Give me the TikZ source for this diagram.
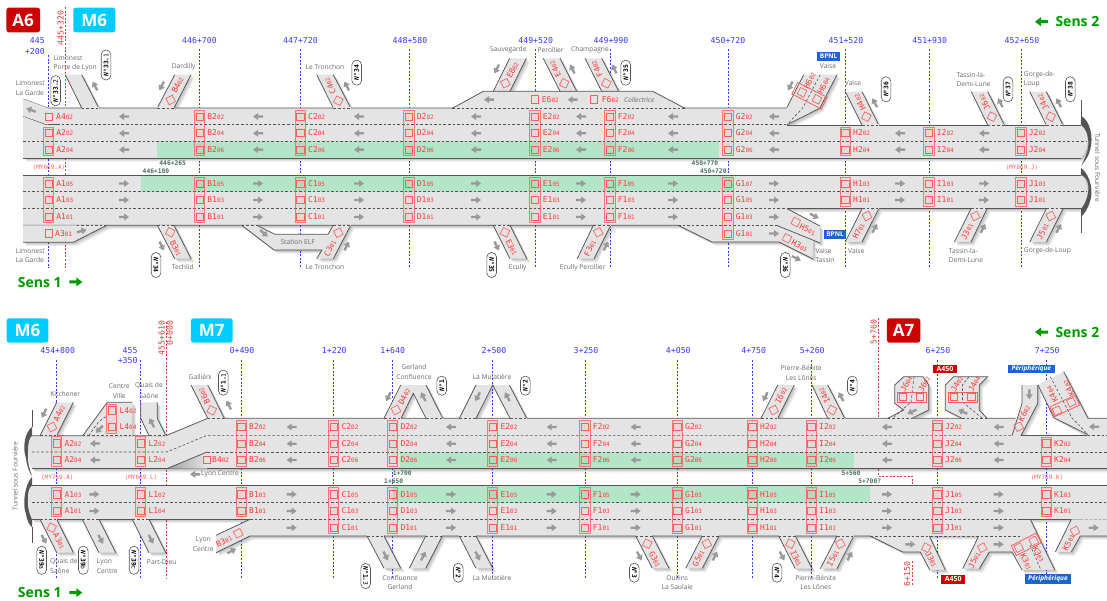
\documentclass[tikz,border=0pt]{standalone}
\usepackage{fontspec}
\setmainfont{Open Sans}
\setmonofont{DejaVu Sans Mono}
\newfontfamily\opn{Open Sans}
\definecolor{roadg}{HTML}{E4E4E4}
\definecolor{edgeg}{HTML}{555555}
\definecolor{arrg}{HTML}{999999}
\definecolor{greenb}{HTML}{B3E5C9}
\definecolor{camr}{HTML}{FF5F5F}
\definecolor{lblr}{HTML}{FF3B3B}
\definecolor{pkb}{HTML}{3838FF}
\definecolor{pkr}{HTML}{E23C3C}
\definecolor{placeg}{HTML}{6A6A6A}
\definecolor{pkg}{HTML}{4A6E5C}
\definecolor{sensg}{HTML}{009900}
\definecolor{a6r}{HTML}{CC0000}
\definecolor{m6c}{HTML}{00CCFF}
\definecolor{bpn}{HTML}{1A66CC}
\newcounter{nn}
\newcount\passno
\newcommand\tx[3][]{\stepcounter{nn}\node[#1] (t\thenn) at (#2) {#3};}
\newcommand\lbt[2]{{\ttfamily\fontsize{8}{8}\selectfont #1}{\ttfamily\fontsize{6}{6}\selectfont #2}}
\newcommand\cam[2]{\tx[camb,rotate=#2]{#1}{}}
\newcommand\rl[4]{\tx[rlab,rotate=#2]{#1}{\lbt{#3}{#4}}}
\newcommand\arrw[3]{\begin{scope}[shift={(#1,#2)},rotate=#3]\fill[arrg] (-5,-1.2)--(0,-1.2)--(0,-3.5)--(5,0)--(0,3.5)--(0,1.2)--(-5,1.2)--cycle;\end{scope}}
\newcommand\senarr[3]{\begin{scope}[shift={(#1,#2)},rotate=#3]\fill[sensg] (-6.5,-1.5)--(0.5,-1.5)--(0.5,-4.5)--(6.5,0)--(0.5,4.5)--(0.5,1.5)--(-6.5,1.5)--cycle;\end{scope}}
\newcommand\softsh[1]{\foreach \s in {1,2,3,4}{\fill[black,opacity=.07,shift={(\s*.9,\s*.9)}] #1;}}
\newcommand\Shp[2]{\ifnum\passno=1 \softsh{#1}\else \fill[roadg] #1; #2\fi}
\newcommand\gap[2]{\draw[line width=1.5pt,roadg](#1)--(#2);\draw[laned](#1)--(#2);}
\newcommand\ramp[4]{\Shp{(#1)--(#2)--(#3)--(#4)--cycle}{\draw[rline](#1)--(#2);\draw[rline](#3)--(#4);\gap{#1}{#4}}}
\newcommand\gantry[3]{\draw[gant] (#1-5.2,#2) rectangle (#1+5.2,#3);}
\newcommand\colm[5]{\gantry{#1}{#2}{#3}\foreach \yy/\ss in {#5}{\cam{#1,\yy}{0}\tx[wlab]{#1+7.7,\yy}{\lbt{#4}{\ss}}}}
\newcommand\pill[5]{\tx[pillb,rotate=#2,minimum width=#3]{#1}{{\bfseries\itshape N°}\textbf{#4}#5}}
\tikzset{
 x=1pt,y=-1pt,
 camb/.style={draw=camr,line width=.65pt,minimum size=7.2pt,inner sep=0pt},
 gant/.style={draw=camr,line width=.85pt,draw opacity=.8,fill=red,fill opacity=.05},
 wlab/.style={anchor=west,inner sep=0pt,text=lblr},
 rlab/.style={inner sep=0pt,text=lblr},
 rline/.style={draw=edgeg,line width=.75pt},
 laned/.style={draw=edgeg,line width=.6pt,dash pattern=on 2.6pt off 2pt},
 place/.style={font=\opn\fontsize{6.7}{8}\selectfont,text=placeg,inner sep=0pt},
 pkt/.style={font=\ttfamily\fontsize{8.2}{9}\selectfont,text=pkb,inner sep=0pt},
 pkrt/.style={font=\ttfamily\fontsize{8.2}{9}\selectfont,text=pkr,inner sep=0pt,rotate=90},
 pkgt/.style={font=\ttfamily\bfseries\fontsize{6.3}{7}\selectfont,text=pkg,inner sep=0pt},
 myt/.style={font=\ttfamily\fontsize{6}{7}\selectfont,text=camr,inner sep=0pt},
 bline/.style={draw=pkb,line width=.6pt,dash pattern=on 2pt off 1.6pt},
 rdline/.style={draw=pkr,line width=.6pt,dash pattern=on 2pt off 1.6pt},
 pillb/.style={draw=edgeg,line width=.6pt,fill=white,rounded corners=4.6pt,minimum height=9.6pt,inner sep=0pt,font=\ttfamily\fontsize{6.3}{7}\selectfont,text=black},
 bigbox/.style={rounded corners=2.5pt,inner sep=0pt,text=white,font=\opn\bfseries\fontsize{17}{18}\selectfont},
 smallbox/.style={inner sep=0pt,text=white,font=\opn\bfseries\fontsize{6.5}{7}\selectfont},
 senst/.style={inner sep=0pt,text=sensg,font=\opn\bfseries\fontsize{14}{15}\selectfont},
}
\def\allramps{%
% --- band 1 top
\Shp{(23,99)--(48,108)--(48,124.7)--(23,116)--cycle}{}%
\ramp{81.7,108}{65.3,74.7}{81.7,74.7}{98.7,108}%
\ramp{157.3,108}{174.7,74.7}{191,74.7}{174,108}%
\ramp{333.3,108}{316.7,74.7}{333.3,74.7}{350.7,108}%
\ramp{493.3,91.3}{509.7,58.3}{526.3,58.3}{510,91.3}%
\ramp{560,91.3}{543.3,58.3}{560,58.3}{576.7,91.3}%
\ramp{601.7,91.3}{585,58.3}{601.7,58.3}{618.7,91.3}%
\Shp{(452.3,108.3)--(483.3,91.3)--(652.7,91.3)--(685,108.3)--cycle}{\draw[rline](452.3,108.3)--(483.3,91.3)--(652.7,91.3)--(685,108.3);\gap{452.3,108.3}{685,108.3}}%
\Shp{(787,107.3)--(803.7,74.7)--(837,74.7)--(819.7,108.3)--(787,124.7)--cycle}{\draw[rline](787,107.3)--(803.7,74.7);\draw[rline](837,74.7)--(819.7,108.3)--(787,124.7);\draw[laned](820.3,74.7)--(802.7,108)--(787,124.7);}%
\ramp{862,125}{845.3,91.7}{862,91.7}{878.7,125}%
\ramp{987.7,125}{971.3,91.7}{987.7,91.7}{1004.3,125}%
\ramp{1046.3,125}{1029.7,91.7}{1046.3,91.7}{1063,125}%
% --- band 1 bottom
\Shp{(23,225.3)--(106.7,225.3)--(73.3,242.3)--(23,242.3)--cycle}{\draw[rline](106.7,225.3)--(73.3,242.3)--(23,242.3);\gap{76.7,225.3}{106.7,225.3}}%
\ramp{157.3,225.3}{174.7,258.7}{191,258.7}{174,225.3}%
\Shp{(241.7,225.3)--(274,250)--(322,250)--(316.7,258.7)--(333.3,258.7)--(350.7,225.3)--(333.3,225.3)--(328,234.3)--(275,234.3)--(256.7,225.3)--cycle}{\draw[rline](241.7,225.3)--(274,250)--(322,250)--(316.7,258.7);\draw[rline](333.3,258.7)--(350.7,225.3);\draw[rline](333.3,225.3)--(328,234.3)--(275,234.3)--(256.7,225.3);\gap{241.7,225.3}{256.7,225.3}\gap{333.3,225.3}{350.7,225.3}}%
\ramp{493.3,225.3}{510,258.7}{526.7,258.7}{510,225.3}%
\ramp{593.3,225.3}{577.3,258.7}{594,258.7}{610.7,225.3}%
\ramp{862,208.7}{845.3,242}{862,242}{878.7,208.7}%
\ramp{971,208.7}{954.3,242}{971,242}{987,208.7}%
\ramp{1046.3,208.7}{1029.7,242}{1046.3,242}{1063,208.7}%
% --- band 2 top
\ramp{40,435.7}{56.7,402.3}{73.3,402.3}{56.7,435.7}%
\Shp{(82.7,435.7)--(107.3,402.3)--(132.3,402.3)--(132.3,435.7)--cycle}{\draw[rline](82.7,435.7)--(107.3,402.3)--(132.3,402.3);\gap{82.7,435.7}{132.3,435.7}\draw[laned](89,435.7) .. controls (96,424) and (102,418) .. (107,416);}%
\Shp{(140.7,402.3)--(157.3,402.3)--(157.3,418.3)--(166,435.7)--(149,435.7)--(140.7,418.3)--cycle}{\draw[rline](140.7,402.3)--(140.7,418.3)--(149,435.7);\draw[rline](157.3,402.3)--(157.3,418.3)--(166,435.7);\gap{149,435.7}{166,435.7}}%
\ramp{207.7,418.3}{191,385}{207.7,385}{224.3,418.3}%
\Shp{(384,418.3)--(400.7,385)--(426,385)--(442.7,418.3)--(426,418.3)--(413.3,393.3)--(401,418.3)--cycle}{\draw[rline](384,418.3)--(400.7,385);\draw[rline](426,385)--(442.7,418.3);\draw[rline](426,418.3)--(413.3,393.3)--(401,418.3);\gap{384,418.3}{401,418.3}\gap{426,418.3}{442.7,418.3}}%
\Shp{(459.3,418.3)--(476,385)--(509.3,385)--(526.7,418.3)--(510,418.3)--(492.7,385)--(476,418.3)--cycle}{\draw[rline](459.3,418.3)--(476,385);\draw[rline](509.3,385)--(526.7,418.3);\draw[rline](510,418.3)--(492.7,385)--(476,418.3);\gap{459.3,418.3}{476,418.3}\gap{510,418.3}{526.7,418.3}}%
\ramp{761,418.3}{777.7,385}{794.3,385}{777.7,418.3}%
\ramp{827.7,418.3}{812,385}{827.7,385}{844.7,418.3}%
\Shp{(887.7,418.3)--(903.7,410)--(894.7,403.3)--(894.7,385)--(903.7,376.7)--(923,376.7)--(928.7,385)--(928.7,410)--(912,418.3)--cycle}{\draw[rline](887.7,418.3)--(903.7,410)--(894.7,403.3)--(894.7,385)--(903.7,376.7)--(923,376.7)--(928.7,385)--(928.7,410)--(912,418.3);\gap{887.7,418.3}{912,418.3}\draw[laned](914,376.7)--(911,402)--(893,418);}%
\Shp{(945.3,385)--(953.7,376.7)--(987.7,376.7)--(979.3,385)--(979.3,410)--(987,418.3)--(962,418.3)--(945.3,410)--cycle}{\draw[rline](962,418.3)--(945.3,410)--(945.3,385)--(953.7,376.7)--(987.7,376.7)--(979.3,385)--(979.3,410)--(987,418.3);\gap{962,418.3}{987,418.3}\draw[laned](969,376.7)--(962.5,385)--(962.5,402)--(982,418);}%
\Shp{(1012,435.7)--(1022,403.3)--(1022,385)--(1037.7,385)--(1037.7,403.3)--(1021,435.7)--cycle}{\draw[rline](1012,435.7)--(1022,403.3)--(1022,385);\draw[rline](1037.7,385)--(1037.7,403.3)--(1021,435.7);}%
\Shp{(1038,385)--(1063.7,371.7)--(1088,418.3)--(1107,418.3)--(1107,435.5)--(1087.7,435.5)--(1053.7,417.7)--cycle}{\draw[rline](1038,385)--(1053.7,417.7)--(1087.7,434.5);\draw[rline](1063.7,371.7)--(1088,418.3)--(1107,418.3);\draw[laned](1050.3,376.7)--(1072,418)--(1087.7,434.3);\draw[laned](1087.7,435.3)--(1107,435.3);}%
% --- band 2 bottom
\ramp{40,519.3}{56.7,552.7}{73.3,552.7}{56.7,519.3}%
\ramp{82.3,519.3}{99,552.7}{115.7,552.7}{99,519.3}%
\ramp{132.3,519.3}{149,552.7}{165.7,552.7}{149,519.3}%
\Shp{(250,519.3)--(216,535.3)--(216,552.7)--(250,536)--cycle}{\draw[rline](250,519.3)--(216,535.3);\draw[rline](216,552.7)--(250,536);}%
\ramp{367,536}{384,568.3}{400.7,568.3}{384,536}%
\ramp{425.7,536}{409.3,568.3}{425.7,568.3}{442.3,536}%
\ramp{459.3,536}{476,568.3}{492.7,568.3}{476,536}%
\ramp{635.7,536}{652.3,568.3}{669,568.3}{652.3,536}%
\ramp{702.3,536}{685.7,568.3}{702.3,568.3}{719,536}%
\ramp{778.7,536}{795.3,568.7}{812,568.7}{795.3,536}%
\ramp{837,536}{820.3,568.7}{837,568.7}{853.7,536}%
\Shp{(1071.3,519.3)--(1107,519.3)--(1107,536)--(1080.3,536)--(1071.3,552)--(1055.3,552)--cycle}{\draw[rline](1071.3,519.3)--(1055.3,552);\draw[rline](1071.3,552)--(1080.3,536)--(1107,536);}%
}
\begin{document}
\begin{tikzpicture}
\useasboundingbox (0,0) rectangle (1107,601);
% PK lines behind the road
\foreach \x in {199.5,300.3,409,535,610,728,845.3,929,1021}{\draw[bline] (\x,49) -- (\x,268);}
\draw[bline] (48.5,55) -- (48.5,268);
\draw[rdline] (65.3,7) -- (65.3,268);
\foreach \x in {241.3,333.7,392.7,492.7,585,677.3,752.3,811.3,937.3,1046.3}{\draw[bline] (\x,360) -- (\x,577.7);}
\draw[bline] (56.7,360) -- (56.7,577.7);
\draw[bline] (140.7,360) -- (140.7,577.7);
\draw[rdline] (166,322) -- (166,578);
\draw[rdline] (878.3,318) -- (878.3,418);
\draw[rdline] (912.3,561) -- (912.3,586);
\draw[rdline] (878.3,469.3) -- (878.3,476) -- (912.3,476) -- (912.3,484.3);
% ramp shadows
\global\passno=1 \allramps
% road shadows
\def\ROne{(23,99)--(48,108)--(787,108)--(787,125)--(1081,125) .. controls (1090,132) and (1090,148) .. (1081,158)--(23,158)--cycle}
\def\RTwo{(23,175)--(1081,175) .. controls (1090,183) and (1090,200) .. (1081,208.7)--(787,208.7)--(820,226)--(820,243)--(813,241)--(813,259)--(779,242)--(712,242)--(678,225.3)--(23,225.3)--cycle}
\def\RThree{(32,435.7)--(166,435.7)--(207.7,418.3)--(1015.5,418.3)--(1021,435.7)--(1087.7,435.7)--(1087.7,418.3)--(1107,418.3)--(1107,468.7)--(32,468.7) .. controls (27,462) and (27,442) .. (32,435.7)--cycle}
\def\RFour{(32,485.3)--(1107,485.3)--(1107,519.3)--(32,519.3) .. controls (27,513) and (27,492) .. (32,485.3)--cycle}
\def\RFive{(250,519.3)--(1030.3,519.3)--(1054.7,570)--(1022,570)--(1012,552)--(989.3,552)--(979.3,568.7)--(962.7,568.7)--(978.7,536)--(929.3,536)--(945.3,570)--(929.7,570)--(920.3,552)--(902.7,552)--(870.3,536)--(250,536)--cycle}
\softsh{\ROne}\softsh{\RTwo}\softsh{\RThree}\softsh{\RFour}\softsh{\RFive}
\fill[roadg] \ROne; \fill[roadg] \RTwo; \fill[roadg] \RThree; \fill[roadg] \RFour; \fill[roadg] \RFive;
% green lanes
\fill[greenb] (157,141.5) rectangle (719,158);
\fill[greenb] (141,175) rectangle (733,191.7);
\fill[greenb] (400,452) rectangle (853.7,468.7);
\fill[greenb] (392.7,485.3) rectangle (870.3,502.7);
% road edges
\draw[rline] (23,99)--(48,108)--(787,108);
\draw[rline] (787,125)--(1081,125);
\draw[rline] (23,158)--(1081,158);
\draw[rline] (23,116)--(46,124.5)--(57,124.5);
\draw[laned] (57,124.5)--(787,124.5);
\draw[laned] (23,141.5)--(1086,141.5);
\draw[rline] (23,175)--(1081,175);
\draw[laned] (23,191.7)--(1086,191.7);
\draw[laned] (23,208.5)--(787,208.5);
\draw[rline] (787,208.7)--(1081,208.7);
\draw[rline] (23,225.3)--(678,225.3)--(712,242)--(779,242)--(813,259);
\draw[laned] (678,225.3)--(777,225.3);
\draw[rline] (787,208.7)--(820,226);
\draw[rline] (777,225.5)--(820,243);
% tunnel ends band 1
\draw[rline] (1081,100)--(1081,117);
\draw[rline] (1081,216)--(1081,233);
\fill[edgeg] (1081,116) .. controls (1090,120) and (1094,138) .. (1090,150) .. controls (1088,158) and (1084,162) .. (1081,166) .. controls (1084,160) and (1090,150) .. (1088,138) .. controls (1087,132) and (1085,128) .. (1081,125) --cycle;
\fill[edgeg] (1081,168) .. controls (1092,176) and (1093,195) .. (1090,201) .. controls (1088,209) and (1084,214) .. (1081,217) -- (1081,208.7) .. controls (1086,204) and (1090,190) .. (1088,184) .. controls (1087,180) and (1085,177) .. (1081,175) --cycle;
% band 2 edges
\draw[rline] (32,435.7)--(166,435.7)--(207.7,418.3)--(1015.5,418.3);
\draw[rline] (1020,435.5)--(1088,435.5);
\draw[laned] (32,452)--(166.7,452)--(207,435.3)--(1012,435.3);
\draw[laned] (207,452)--(1107,452);
\draw[rline] (32,468.7)--(1107,468.7);
\draw[rline] (32,485.3)--(1107,485.3);
\draw[laned] (32,502.7)--(1107,502.7);
\draw[rline] (32,519.3)--(250,519.3);
\draw[laned] (250,519.3)--(1020.3,519.3);
\draw[rline] (1020.3,519.3)--(1080.3,519.3);
\draw[laned] (1080.3,519.3)--(1107,519.3);
\draw[rline] (250,536)--(870.3,536)--(902.7,552)--(920.3,552)--(929.7,570);
\draw[rline] (929.3,536)--(945.3,570);
\draw[rline] (978.7,536)--(962.7,568.7);
\draw[rline] (979.3,568.7)--(989.3,552)--(1012,552)--(1022,570);
\draw[rline] (1030.3,519.3)--(1054.7,570);
\draw[laned] (870.3,536)--(1020.3,536);
\draw[laned] (1030,545)--(1041,570);
\shade[left color=black!38,right color=roadg] (166.7,468.7)--(207,452.3)--(207,468.7)--cycle;
\draw[rline] (166.7,468.7)--(207,452);
% tunnel ends band 2
\draw[rline] (32,410)--(32,427);
\draw[rline] (32,527)--(32,543);
\fill[edgeg] (32,427) .. controls (25,432) and (22,448) .. (26,458) .. controls (27,466) and (29,472) .. (32,476) .. controls (30,470) and (27,462) .. (28,452) .. controls (28,444) and (29,438) .. (32,435.7) --cycle;
\fill[edgeg] (32,477) .. controls (25,484) and (22,504) .. (26,514) .. controls (27,520) and (29,525) .. (32,527) -- (32,519.3) .. controls (29,514) and (27,504) .. (28,498) .. controls (28,492) and (29,488) .. (32,485.3) --cycle;
% ramps
\global\passno=2 \allramps
% ---------- band 1 columns
\cam{48.5,116.5}{0}\tx[wlab]{56,116.5}{\lbt{A4}{02}}
\colm{48.5}{127}{155}{A2}{133/02,149.5/04}
\colm{48.5}{177.7}{222.7}{A1}{183.5/05,200/03,217/01}
\foreach \x/\c in {199.5/B,300.3/C,409/D,535/E,610/F}{
 \colm{\x}{110.5}{155}{\c2}{116.5/02,133/04,149.5/06}
 \colm{\x}{177.7}{222.7}{\c1}{183.5/05,200/03,217/01}
}
\colm{728}{110.5}{155}{G2}{116.5/02,133/04,149.5/06}
\colm{728}{177.7}{239}{G1}{183.5/07,200/05,217/03,233.5/01}
\foreach \x/\c in {845.3/H,929/I,1021/J}{
 \colm{\x}{127.3}{155}{\c2}{133/02,149.5/04}
 \colm{\x}{177.7}{206.7}{\c1}{183.5/03,200/01}
}
% band 1 arrows
\foreach \x in {124,258,359,476,581,673,774}{\arrw{\x}{116.5}{180}}
\foreach \x in {124,258,359,476,581,673,774,900,984}{\arrw{\x}{133.3}{180}\arrw{\x}{149.7}{180}\arrw{\x}{183.5}{0}\arrw{\x}{200}{0}}
\foreach \x in {124,258,359,476,581,673,774}{\arrw{\x}{217}{0}}
\arrw{774}{233.5}{0}
\arrw{489}{99.7}{180}\arrw{572.7}{99.7}{180}
% band 1 ramp details
\arrw{31}{110}{160}
\arrw{95}{86}{117}
\cam{170.7,100}{27}\rl{177.7,85}{63}{B4}{02}\arrw{161.7}{86}{243}
\cam{338.3,100.7}{-27}\rl{330,86}{117}{C4}{02}\arrw{346.7}{86}{117}
\cam{505.3,83.3}{27}\rl{512.7,70}{63}{E8}{02}\arrw{496.7}{69}{243}
\cam{564.3,83.3}{-27}\rl{555,69}{117}{E4}{02}\arrw{572.3}{69}{117}
\cam{606.3,83.3}{-27}\rl{596.7,69}{117}{F4}{02}\arrw{614.3}{69}{117}
\cam{535,99.3}{0}\tx[wlab]{541.7,99.5}{\lbt{E6}{02}}
\cam{594,99.3}{0}\tx[wlab]{601.7,99.5}{\lbt{F6}{02}}
\tx[place,font=\opn\itshape\fontsize{6.7}{8}\selectfont]{639.3,100}{Collectrice}
\tx[draw=camr,line width=.8pt,minimum width=33pt,minimum height=13pt,inner sep=0pt,rotate=-27]{809.5,95.7}{}
\cam{802,92.3}{-27}\cam{817,99.3}{-27}
\rl{809.7,80.7}{63}{H6}{02}\rl{823.7,85.7}{63}{H6}{04}\arrw{790.3}{86}{243}
\cam{866.3,116.7}{-27}\rl{859.7,102.3}{117}{H4}{02}\arrw{874.7}{102.7}{117}
\cam{992,116.7}{-27}\rl{984.3,102.3}{117}{J6}{02}\arrw{1000.3}{102.7}{117}
\cam{1050.7,116.7}{-27}\rl{1043,102.3}{117}{J4}{02}\arrw{1058.7}{102.7}{117}
\cam{49,233.3}{0}\tx[wlab]{55,233.5}{\lbt{A3}{01}}\arrw{81.7}{231}{15}
\cam{170.3,232.3}{-27}\rl{176,248.3}{-63}{B3}{01}\arrw{161.7}{246}{-63}
\arrw{264}{233.3}{-40}\tx[place]{297.7,242.3}{Station ELF}
\cam{338.3,232.7}{27}\rl{330,248.3}{63}{C3}{01}\arrw{346.7}{246}{63}
\cam{505,232.3}{-27}\rl{511.7,247.3}{-63}{E3}{01}\arrw{496.7}{246}{-63}
\cam{598.3,232.3}{27}\rl{590,248.3}{63}{F3}{01}\arrw{606}{246}{63}
\cam{795.7,222}{-27}\rl{807.7,229.3}{-27}{H5}{01}\arrw{814.3}{216}{-27}
\cam{787,238.3}{-27}\rl{799.7,246}{-27}{H3}{01}\arrw{796.3}{258.3}{-27}
\cam{867,216}{27}\rl{858.7,231}{63}{H7}{01}\arrw{874.7}{228.3}{63}
\cam{975.3,216}{27}\rl{967,231.7}{63}{J3}{01}\arrw{983}{228.3}{63}
\cam{1050.7,216}{27}\rl{1042.7,231.7}{63}{J5}{01}\arrw{1058.7}{228.3}{63}
% band 1 texts
\tx[bigbox,fill=a6r,minimum width=33.7pt,minimum height=24.6pt]{23.2,20}{A6}
\tx[bigbox,fill=m6c,minimum width=42pt,minimum height=24.6pt]{94.3,20}{M6}
\tx[pkt,anchor=east]{45,41}{445}\tx[pkt,anchor=east]{45,51.5}{+200}
\tx[pkrt]{60.7,28}{445+320}
\foreach \x/\t in {199.5/446+700,300.5/447+720,410/448+580,535.7/449+520,611/449+990,728/450+720,846/451+520,929.7/451+930,1022/452+650}{\tx[pkt]{\x,41}{\t}}
\senarr{1041.5}{21.7}{180}\tx[senst,anchor=west]{1055.3,22}{Sens 2}
\tx[senst,anchor=west]{17.7,282}{Sens 1}\senarr{75.8}{282}{0}
\tx[place,anchor=west]{53.3,58.3}{Limonest}\tx[place,anchor=west]{53.3,67.7}{Porte de Lyon}
\tx[place,anchor=west]{15.7,83.3}{Limonest}\tx[place,anchor=west]{15.7,92.7}{La Garde}
\tx[place]{183.7,66.7}{Dardilly}\tx[place]{325,66.7}{Le Tronchon}
\tx[place]{508.3,50}{Sauvegarde}\tx[place]{550.7,50}{Perollier}\tx[place]{590,50}{Champagne}
\tx[smallbox,fill=bpn,minimum width=23.3pt,minimum height=9.3pt]{828.6,56.3}{BPNL}
\tx[place]{828,66}{Vaise}\tx[place,anchor=west]{844.7,83.3}{Vaise}
\tx[place,anchor=west]{956.3,74.7}{Tassin-la-}\tx[place,anchor=west]{956.3,84.3}{Demi-Lune}
\tx[place,anchor=west]{1023.7,74.7}{Gorge-de-}\tx[place,anchor=west]{1023.7,84.3}{Loup}
\tx[place,rotate=-90]{1097.7,167.5}{Tunnel sous Fourvière}
\tx[place,anchor=west]{15.7,251}{Limonest}\tx[place,anchor=west]{15.7,260.3}{La Garde}
\tx[place]{182.7,267.3}{Techlid}\tx[place]{325,267.3}{Le Tronchon}
\tx[place]{517.7,267.3}{Ecully}\tx[place]{582.7,268}{Ecully Perollier}
\tx[place,anchor=west]{815.3,251}{Vaise}\tx[place,anchor=west]{815.3,260.3}{Tassin}
\tx[place,anchor=west]{848,251}{Vaise}
\tx[place,anchor=west]{948.7,251}{Tassin-la-}\tx[place,anchor=west]{948.7,260.5}{Demi-Lune}
\tx[place,anchor=west]{1023.7,251}{Gorge-de-Loup}
\tx[smallbox,fill=bpn,minimum width=22.6pt,minimum height=8.7pt]{835,234.3}{BPNL}
\tx[pkgt]{172.7,163}{446+265}\tx[pkgt]{156,171.3}{446+100}\tx[pkgt]{705,163}{450+770}\tx[pkgt]{713.3,171.3}{450+720}
\tx[myt]{49,167.7}{(MY669.A)}\tx[myt]{1022,167.7}{(MY669.J)}
\pill{55.7,90.7}{90}{30pt}{33.}{2}\pill{106,65}{90}{30pt}{33.}{1}
\pill{356.7,72.7}{90}{25pt}{34}{}\pill{625.7,72.7}{90}{25pt}{35}{}
\pill{886,89.3}{90}{25pt}{36}{}\pill{1008,89.3}{90}{25pt}{37}{}\pill{1070.3,89.3}{90}{25pt}{38}{}
\pill{156,265}{-90}{25pt}{34}{}\pill{491.7,265}{-90}{25pt}{35}{}\pill{785.3,265}{-90}{25pt}{36}{}
% ---------- band 2 columns
\colm{56.7}{436.7}{466}{A2}{443.3/02,460/04}
\colm{56.7}{487.5}{516}{A1}{494.3/03,511/01}
\colm{140.7}{436.7}{466}{L2}{443.3/02,460/04}
\colm{140.7}{487.5}{516}{L1}{494.3/02,511/04}
\colm{111.7}{404.3}{433.3}{L4}{410.3/02,427/04}
\colm{241.3}{420.7}{466}{B2}{427/02,443.7/04,460/06}
\colm{241.3}{487.5}{516}{B1}{494.3/03,511/01}
\cam{206.7,460}{0}\tx[wlab]{212,460}{\lbt{B4}{02}}
\foreach \x/\c in {333.7/C,392.7/D,492.7/E,585/F,677.3/G,752.3/H,811.3/I,937.3/J}{
 \colm{\x}{420.7}{466}{\c2}{427/02,443.7/04,460/06}
 \colm{\x}{487.5}{533}{\c1}{494.3/05,511/03,527.7/01}
}
\colm{1046.3}{437.3}{466}{K2}{443.3/02,460/04}
\colm{1046.3}{487.5}{516}{K1}{494.3/03,511/01}
% band 2 arrows
\foreach \y in {443.5,460}{\arrw{95}{\y}{180}}
\foreach \x in {291.7,451,551.7,635.7,887,998.7}{\arrw{\x}{427}{180}\arrw{\x}{443.7}{180}\arrw{\x}{460}{180}\arrw{\x}{494.3}{0}\arrw{\x}{511}{0}\arrw{\x}{527.7}{0}}
\arrw{94.3}{494.3}{0}\arrw{94.3}{511}{0}
\arrw{1094}{426.7}{180}\arrw{1093.7}{527.7}{0}
\arrw{910.3}{544.3}{0}\arrw{998.7}{544.3}{0}
% band 2 ramp details
\cam{52,427}{27}\rl{59.3,413.3}{63}{A4}{02}\arrw{44}{413.3}{243}
\arrw{99.3}{429.3}{225}\arrw{151.7}{422.7}{117}
\cam{211.7,410.3}{-27}\rl{204,396}{117}{B6}{02}\arrw{228.7}{405}{117}
\cam{396,410}{27}\rl{404.3,396.7}{63}{D4}{02}\arrw{388.3}{396.7}{243}\arrw{423.3}{396.7}{117}
\arrw{477.7}{396.7}{243}\arrw{507.3}{396.7}{117}
\cam{773.7,410}{27}\rl{781,395.7}{63}{I6}{02}\arrw{765.3}{396.7}{243}
\cam{832,410}{-27}\rl{824.3,395.7}{117}{I4}{02}\arrw{841}{396.7}{117}
\tx[draw=camr,line width=.8pt,minimum width=29.3pt,minimum height=10pt,inner sep=0pt]{911.6,397.3}{}
\cam{902.7,396.7}{0}\cam{919.7,396.7}{0}\rl{906.3,384}{63}{J6}{04}\rl{924.3,384}{63}{J6}{02}\arrw{912}{411.7}{205}
\tx[draw=camr,line width=.8pt,minimum width=29pt,minimum height=10pt,inner sep=0pt]{962.5,397.3}{}
\cam{953.7,396.7}{0}\cam{971.3,396.7}{0}\rl{957,384}{63}{J4}{02}\rl{974.3,384}{63}{J4}{04}\arrw{962.7}{411.7}{155}
\cam{1018.7,426.7}{27}\rl{1024.3,413.3}{63}{K6}{02}\arrw{1029.3}{394.3}{270}
\tx[draw=camr,line width=.8pt,minimum width=27.6pt,minimum height=10.8pt,inner sep=0pt,rotate=25]{1064.7,406}{}
\cam{1057,410.7}{25}\cam{1071.3,402.3}{25}\rl{1052,394.3}{117}{K4}{04}\rl{1068.7,388.3}{117}{K4}{02}
\cam{51.7,527.7}{-27}\rl{59.3,541}{-63}{A3}{01}\arrw{44}{539.3}{-63}
\arrw{100.7}{539.3}{-63}\arrw{151}{539.3}{-63}
\cam{238.3,533.3}{27}\rl{224,541}{27}{B3}{01}\arrw{231.7}{551}{27}
\arrw{385.7}{556}{-63}\arrw{423.3}{556}{63}\arrw{477.7}{556}{-63}
\cam{647.3,543.7}{-27}\rl{655,559.3}{-63}{G3}{01}\arrw{639.3}{556}{-63}
\cam{706.7,543.7}{27}\rl{698.3,558.3}{63}{G5}{01}\arrw{715}{556}{63}
\cam{790.3,543.7}{-27}\rl{796.3,558.3}{-63}{I3}{01}\arrw{782}{556}{-63}
\cam{840.3,543.7}{27}\rl{833,558.3}{63}{I5}{01}\arrw{849.7}{556}{63}
\cam{926.3,547.7}{-27}\rl{931.3,559.3}{-63}{J3}{01}
\cam{982.3,547.7}{27}\rl{974.3,560.3}{63}{J5}{01}
\tx[draw=camr,line width=.8pt,minimum width=28pt,minimum height=11pt,inner sep=0pt,rotate=27]{1026.2,544.3}{}
\cam{1018.7,547.7}{27}\cam{1033.7,541}{27}\rl{1038.7,554.3}{-63}{K3}{03}\rl{1026.3,561.7}{-63}{K3}{01}
\cam{1075,531}{27}\rl{1068.7,542.7}{63}{K5}{01}
% band 2 texts
\tx[bigbox,fill=m6c,minimum width=41.6pt,minimum height=24.4pt]{27.5,330.5}{M6}
\tx[bigbox,fill=m6c,minimum width=41.7pt,minimum height=24.4pt]{211.8,330.5}{M7}
\tx[bigbox,fill=a6r,minimum width=33.3pt,minimum height=24.4pt]{903.6,330.5}{A7}
\tx[pkt]{57.7,351}{454+800}
\tx[pkt,anchor=east]{137.7,350.3}{455}\tx[pkt,anchor=east]{137.7,361}{+350}
\foreach \x/\t in {242/0+490,334.3/1+220,392.7/1+640,494/2+500,586/3+250,678.3/4+050,753.7/4+750,812.3/5+260,938/6+250,1047.3/7+250}{\tx[pkt]{\x,351}{\t}}
\tx[pkrt]{161.7,338.3}{455+610}\tx[pkrt]{170,333}{0+000}
\tx[pkrt]{873.7,331.7}{5+760}\tx[pkrt]{907,573.7}{6+150}
\senarr{1041.5}{332}{180}\tx[senst,anchor=west]{1055.3,332.3}{Sens 2}
\tx[senst,anchor=west]{17.7,592.7}{Sens 1}\senarr{75.8}{592.7}{0}
\tx[place]{65.3,393.7}{Kitchener}
\tx[place]{119.3,386}{Centre}\tx[place]{119.3,395.7}{Ville}
\tx[place]{149,386}{Quais de}\tx[place]{149,395.7}{Saône}
\tx[place]{200.3,377}{Galliéni}
\tx[place]{414,367.3}{Gerland}\tx[place]{414,377.3}{Confluence}
\tx[place]{492,376.7}{La Mulatière}
\tx[place]{801.3,368.3}{Pierre-Bénite}\tx[place]{801.3,378.3}{Les Lônes}
\tx[smallbox,fill=a6r,minimum width=24.3pt,minimum height=8.3pt,font=\opn\bfseries\fontsize{7}{7}\selectfont]{944.9,369.2}{A450}
\tx[smallbox,fill=bpn,minimum width=46.7pt,minimum height=8.3pt,font=\opn\bfseries\itshape\fontsize{6.5}{7}\selectfont]{1031.3,369.2}{Périphérique}
\tx[place,rotate=90]{15,476}{Tunnel sous Fourvière}
\tx[place]{220,474.3}{Lyon Centre}\arrw{195}{474.3}{180}
\tx[myt]{57.3,477.7}{(MY769.A)}\tx[myt]{141,477.7}{(MY669.L)}\tx[myt]{1047,477.7}{(MY769.K)}
\tx[pkgt]{402.3,473.3}{1+700}\tx[pkgt]{393.7,481.7}{1+650}\tx[pkgt]{851,473.3}{5+560}\tx[pkgt]{869.7,481.7}{5+700?}
\tx[place,anchor=west]{50,561.7}{Quais de}\tx[place,anchor=west]{50,571}{Saône}
\tx[place,anchor=west]{96.7,561.7}{Lyon}\tx[place,anchor=west]{96.7,571}{Centre}
\tx[place]{161.7,561.7}{Part-Dieu}
\tx[place]{203.3,539.7}{Lyon}\tx[place]{203.3,549.3}{Centre}
\tx[place]{400,578}{Confluence}\tx[place]{400,587.3}{Gerland}
\tx[place]{492,578}{La Mulatière}
\tx[place]{677.3,578}{Oullins}\tx[place]{677.3,587.3}{La Saulaie}
\tx[place]{815.7,578}{Pierre-Bénite}\tx[place]{815.7,587.3}{Les Lônes}
\tx[smallbox,fill=a6r,minimum width=24.3pt,minimum height=8.7pt,font=\opn\bfseries\fontsize{7}{7}\selectfont]{953.2,579.3}{A450}
\tx[smallbox,fill=bpn,minimum width=46.6pt,minimum height=9.3pt,font=\opn\bfseries\itshape\fontsize{6.5}{7}\selectfont]{1048,579}{Périphérique}
\pill{223.3,382.7}{90}{25pt}{1.}{1}\pill{441.7,385.7}{90}{19pt}{1}{}\pill{525.3,385.7}{90}{19pt}{2}{}\pill{852.3,385.7}{90}{19pt}{4}{}
\pill{41.7,560.3}{-90}{28pt}{39}{a}\pill{83.3,560.3}{-90}{28pt}{39}{b}\pill{134,560.3}{-90}{28pt}{39}{c}
\pill{365.7,576}{-90}{25pt}{1.}{3}\pill{458.3,572.7}{-90}{19pt}{2}{}\pill{634.3,572.7}{-90}{19pt}{3}{}\pill{777,572.7}{-90}{19pt}{4}{}
\end{tikzpicture}
\end{document}
